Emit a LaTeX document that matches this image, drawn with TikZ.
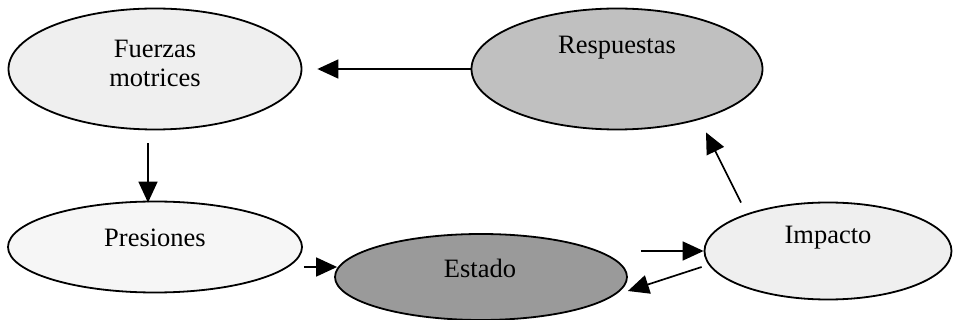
\documentclass[tikz,border=0pt]{standalone}
\usepackage{fontspec}
\setmainfont{Liberation Serif}
\usetikzlibrary{shapes.geometric,arrows.meta}
\definecolor{palefill}{HTML}{EFEFEF}
\definecolor{paler}{HTML}{F6F6F6}
\definecolor{midgray}{HTML}{C0C0C0}
\definecolor{darkgray}{HTML}{9A9A9A}
\begin{document}
\begin{tikzpicture}[x=1pt,y=-1pt,
  oval/.style={ellipse,draw=black,line width=1.8pt,inner sep=0pt},
  lbl/.style={anchor=base,font=\fontsize{26.5}{29}\selectfont,inner sep=0pt,align=center},
  link/.style={line width=1.7pt,-{Triangle[length=21pt,width=19pt]}}]
\useasboundingbox (0,0) rectangle (953,320);
% ellipses
\node[oval,fill=palefill,minimum width=293pt,minimum height=121pt] (fuer) at (155,69) {};
\node[oval,fill=midgray,minimum width=291pt,minimum height=121pt] (resp) at (617,69) {};
\node[oval,fill=paler,minimum width=294pt,minimum height=91pt] (pres) at (155,247) {};
\node[oval,fill=darkgray,minimum width=292pt,minimum height=86pt] (est) at (481,277) {};
\node[oval,fill=palefill,minimum width=247pt,minimum height=97pt] (imp) at (828,251) {};
% labels
\node[lbl] (tfuer1) at (155,58) {Fuerzas};
\node[lbl] (tfuer2) at (155,87) {motrices};
\node[lbl] (tresp) at (617,54) {Respuestas};
\node[lbl] (tpres) at (155,247) {Presiones};
\node[lbl] (test) at (480,278) {Estado};
\node[lbl] (timp) at (828,244) {Impacto};
% connectors
\draw[link] (resp.west) -- ([xshift=15pt]fuer.east);
\draw[link] ([xshift=-7pt,yshift=-13pt]fuer.south) -- ([xshift=-7pt,yshift=-2pt]pres.north);
\draw[link] ([xshift=1pt,yshift=-20pt]pres.east) -- ([xshift=3pt,yshift=10pt]est.west);
\draw[link] ([xshift=13pt,yshift=26pt]est.east) -- (imp.west);
\draw[link] ([xshift=-2pt,yshift=-16pt]imp.west) -- ([yshift=-14pt]est.east);
\draw[link] ([xshift=-87pt,yshift=-1pt]imp.north) -- ([xshift=89pt,yshift=-2pt]resp.south);
\end{tikzpicture}
\end{document}
